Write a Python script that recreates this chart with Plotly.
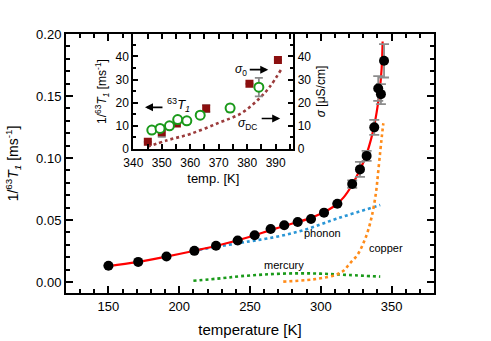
import plotly.graph_objects as go

# ---------------- main panel data ----------------
T_main = [150, 171, 191, 210.7, 226, 241.3, 253.3, 264.6, 274.2, 283.7, 293.1,
          302.3, 311.7, 322.2, 327.7, 332.4, 337.8, 340.6, 342.5, 344.7]
R_main = [0.0131, 0.0162, 0.0205, 0.0251, 0.0292, 0.0335, 0.0377, 0.0427, 0.0457,
          0.0484, 0.0508, 0.0559, 0.0631, 0.0790, 0.0908, 0.1017, 0.1247, 0.1560,
          0.1515, 0.1784]
R_err = [0, 0, 0, 0, 0, 0, 0, 0, 0, 0, 0, 0, 0,
         0.003, 0.006, 0.004, 0.006, 0.010, 0.008, 0.0135]

T_fit = [150, 170, 190, 210, 230, 250, 265, 280, 290, 300, 310, 316, 322, 327,
         331, 334, 337, 339.5, 341.5, 343, 343.7]
R_fit = [0.0128, 0.0160, 0.0203, 0.0250, 0.0302, 0.0365, 0.0420, 0.0472, 0.0505,
         0.0550, 0.0615, 0.0680, 0.0780, 0.0890, 0.0990, 0.1090, 0.1220, 0.1370,
         0.1530, 0.1720, 0.1940]

T_phonon = [210, 230, 250, 262, 275, 287, 300, 311, 325, 342]
R_phonon = [0.0252, 0.0290, 0.0328, 0.0350, 0.0380, 0.0415, 0.0465, 0.0510, 0.0560, 0.0620]

T_mercury = [210, 230, 243, 260, 280, 300, 320, 342]
R_mercury = [0.0010, 0.0030, 0.0046, 0.0060, 0.0069, 0.0067, 0.0056, 0.0043]

T_copper = [273.5, 290, 300, 310, 316, 320.6, 326, 330, 333, 336, 339, 340.5,
            342, 343.2, 344.2]
R_copper = [0.0003, 0.0015, 0.0030, 0.0055, 0.0090, 0.0150, 0.0220, 0.0310,
            0.0400, 0.0527, 0.0720, 0.0880, 0.1050, 0.1180, 0.1280]

# ---------------- inset data ----------------
T_sq = [345.1, 350.0, 355.3, 365.6, 380.8, 390.8]
V_sq = [3.1, 7.2, 11.0, 17.5, 28.2, 38.5]
E_sq = [0, 2.0, 0, 1.5, 0, 0]

T_circ = [346.5, 349.4, 352.7, 355.6, 358.8, 363.5, 374.0, 384.1]
V_circ = [8.2, 8.9, 10.0, 12.7, 12.2, 14.6, 17.7, 26.7]
E_circ = [0, 0, 0, 0, 0, 1.0, 1.5, 4.0]

T_dc = [345, 352, 360, 370, 378, 384, 388, 392]
V_dc = [1.0, 3.8, 6.5, 11.3, 15.5, 21.5, 27.0, 34.5]

x_main_ticks = [150, 200, 250, 300, 350]
y_main_ticks = [0.00, 0.05, 0.10, 0.15, 0.20]
x_ins_ticks = [340, 350, 360, 370, 380, 390]
y_ins_ticks = [0, 10, 20, 30, 40]

FONT = "Liberation Sans, Arial, sans-serif"
GRAY = "#8c8c8c"

fig = go.Figure()

# main traces
fig.add_trace(go.Scatter(x=T_phonon, y=R_phonon, mode="lines",
                         line=dict(color="#2a96d6", width=2.6, dash="dot", shape="spline"),
                         xaxis="x", yaxis="y"))
fig.add_trace(go.Scatter(x=T_mercury, y=R_mercury, mode="lines",
                         line=dict(color="#1a9a1a", width=2.6, dash="dot", shape="spline"),
                         xaxis="x", yaxis="y"))
fig.add_trace(go.Scatter(x=T_copper, y=R_copper, mode="lines",
                         line=dict(color="#ff8c1a", width=2.6, dash="dot", shape="spline"),
                         xaxis="x", yaxis="y"))
fig.add_trace(go.Scatter(x=T_fit, y=R_fit, mode="lines",
                         line=dict(color="#ff0000", width=2.2, shape="spline"),
                         xaxis="x", yaxis="y"))
fig.add_trace(go.Scatter(x=T_main, y=R_main, mode="markers",
                         marker=dict(color="black", size=10),
                         error_y=dict(type="data", array=R_err, color=GRAY,
                                      thickness=1.8, width=5),
                         xaxis="x", yaxis="y"))

# inset traces
fig.add_trace(go.Scatter(x=T_dc, y=V_dc, mode="lines",
                         line=dict(color="#9b3b3b", width=2.6, dash="dot", shape="spline"),
                         xaxis="x2", yaxis="y3"))
fig.add_trace(go.Scatter(x=T_sq, y=V_sq, mode="markers",
                         marker=dict(color="#8b0f0f", size=8, symbol="square"),
                         error_y=dict(type="data", array=E_sq, color=GRAY,
                                      thickness=1.8, width=4),
                         xaxis="x2", yaxis="y2"))
fig.add_trace(go.Scatter(x=T_circ, y=V_circ, mode="markers",
                         marker=dict(color="white", size=9, symbol="circle",
                                     line=dict(color="#1a9a1a", width=2)),
                         error_y=dict(type="data", array=E_circ, color=GRAY,
                                      thickness=1.8, width=4),
                         xaxis="x2", yaxis="y3"))

axis_common = dict(showline=True, linecolor="black", linewidth=2, mirror="allticks",
                   ticks="inside", tickcolor="black", tickwidth=1.5,
                   showgrid=False, zeroline=False, automargin=False)

ix0, ix1 = (133.3 - 66) / 368, (293.3 - 66) / 368
iy0 = (293 - 149) / 259

fig.update_layout(
    width=491, height=341,
    margin=dict(l=66, r=57, t=34, b=48, autoexpand=False),
    paper_bgcolor="white", plot_bgcolor="white",
    showlegend=False,
    font=dict(family=FONT, color="black", size=13),
    xaxis=dict(axis_common, domain=[0, 1], range=[120, 380], tickvals=x_main_ticks,
               ticklen=7, minor=dict(dtick=10, ticklen=4, ticks="inside",
                                     tickcolor="black", tickwidth=1.5),
               tickfont=dict(size=13),
               title=dict(text="temperature [K]", font=dict(size=15), standoff=12)),
    yaxis=dict(axis_common, domain=[0, 1], range=[-0.0089, 0.2], tickvals=y_main_ticks,
               tickformat=".2f", ticklen=7,
               minor=dict(dtick=0.01, ticklen=4, ticks="inside",
                          tickcolor="black", tickwidth=1.5),
               tickfont=dict(size=13),
               title=dict(text="1/<sup>63</sup><i>T<sub>1</sub></i> [ms<sup>-1</sup>]",
                          font=dict(size=14), standoff=14)),
    xaxis2=dict(axis_common, domain=[ix0, ix1], anchor="y2", range=[340, 396.2],
                tickvals=x_ins_ticks, ticklen=5, ticklabelstandoff=2,
                minor=dict(dtick=5, ticklen=3, ticks="inside",
                           tickcolor="black", tickwidth=1.5),
                tickfont=dict(size=12),
                title=dict(text="temp. [K]", font=dict(size=13), standoff=4)),
    yaxis2=dict(axis_common, domain=[iy0, 1], anchor="x2", range=[0, 49.7],
                mirror=False, tickvals=y_ins_ticks, ticklen=5,
                minor=dict(dtick=5, ticklen=3, ticks="inside",
                           tickcolor="black", tickwidth=1.5),
                tickfont=dict(size=12),
                title=dict(text="1/<sup>63</sup><i>T<sub>1</sub></i> [ms<sup>-1</sup>]",
                           font=dict(size=12), standoff=6)),
    yaxis3=dict(axis_common, overlaying="y2", anchor="x2", side="right",
                range=[0, 49.7], mirror=False, tickvals=y_ins_ticks, ticklen=5,
                minor=dict(dtick=5, ticklen=3, ticks="inside",
                           tickcolor="black", tickwidth=1.5),
                tickfont=dict(size=12),
                title=dict(text="<i>σ</i> [μS/cm]", font=dict(size=12), standoff=6)),
)

ann = []
# main labels (data coordinates, left-anchored)
ann.append(dict(xref="x", yref="y", x=286.7, y=0.0392, xanchor="left",
                text="phonon", showarrow=False, font=dict(size=11)))
ann.append(dict(xref="x", yref="y", x=332.5, y=0.0275, xanchor="left",
                text="copper", showarrow=False, font=dict(size=11)))
ann.append(dict(xref="x", yref="y", x=258.5, y=0.0137, xanchor="left",
                text="mercury", showarrow=False, font=dict(size=11)))
# inset labels and arrows
ann.append(dict(xref="x2", yref="y2", x=344.1, y=18.0, ax=19, ay=0, text="",
                showarrow=True, arrowhead=2, arrowsize=1, arrowwidth=1.6,
                arrowcolor="black"))
ann.append(dict(xref="x2", yref="y2", x=351.3, y=19.0, xanchor="left",
                text="<sup>63</sup><i>T<sub>1</sub></i>", showarrow=False,
                font=dict(size=13)))
ann.append(dict(xref="x2", yref="y2", x=387.4, y=34.3, ax=-20, ay=0, text="",
                showarrow=True, arrowhead=2, arrowsize=1, arrowwidth=1.6,
                arrowcolor="black"))
ann.append(dict(xref="x2", yref="y2", x=380.6, y=34.0, xanchor="right",
                text="<i>σ</i><sub>0</sub>", showarrow=False, font=dict(size=12)))
ann.append(dict(xref="x2", yref="y2", x=391.6, y=13.2, ax=-20, ay=0, text="",
                showarrow=True, arrowhead=2, arrowsize=1, arrowwidth=1.6,
                arrowcolor="black"))
ann.append(dict(xref="x2", yref="y2", x=384.0, y=11.0, xanchor="right",
                text="<i>σ</i><sub>DC</sub>", showarrow=False, font=dict(size=12)))
fig.update_layout(annotations=ann)

fig.write_html("out.html", config={"displayModeBar": False},
               post_script="document.body.style.margin='0';document.body.style.overflow='hidden';")
